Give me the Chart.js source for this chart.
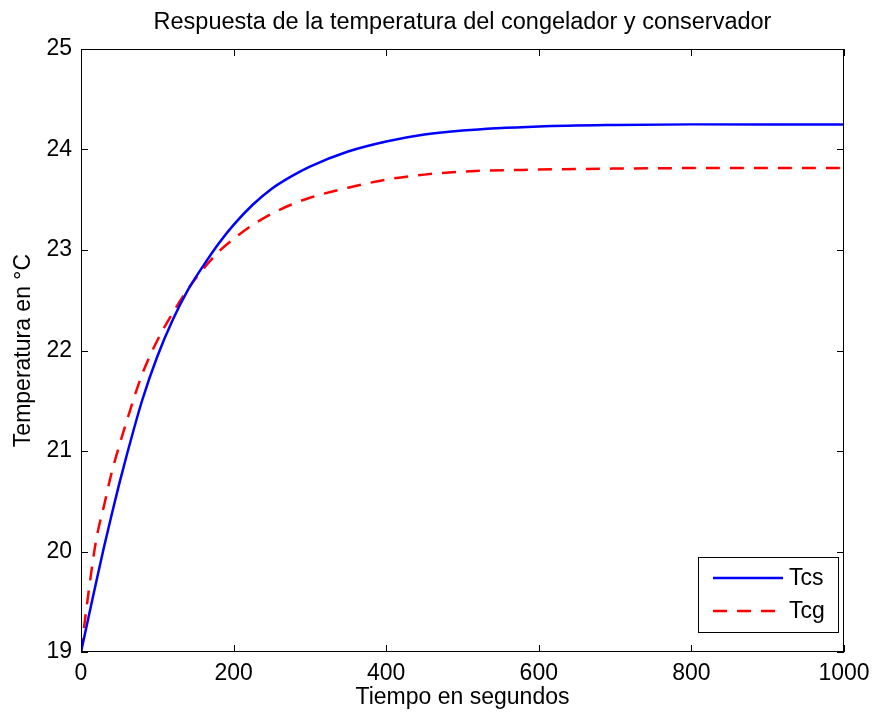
<!DOCTYPE html>
<html>
<head>
<meta charset="utf-8">
<script src="https://cdn.jsdelivr.net/npm/chart.js@4"></script>
<style>body{margin:0;background:#fff}</style>
</head>
<body>
<canvas id="chart" width="872" height="713"></canvas>
<script>
// tiempo en segundos
const tiempo = [0, 10, 20, 30, 40, 50, 60, 80, 100, 120, 140, 160, 180, 200, 225, 250, 275, 300, 350, 400, 450, 500, 600, 700, 800, 900, 1000];
// temperatura del conservador
const tcs = [19.0, 19.35, 19.7, 20.04, 20.36, 20.67, 20.96, 21.5, 21.94, 22.3, 22.6, 22.84, 23.06, 23.25, 23.45, 23.61, 23.73, 23.83, 23.98, 24.08, 24.15, 24.19, 24.23, 24.245, 24.25, 24.25, 24.25];
// temperatura del congelador
const tcg = [19.0, 19.6, 20.12, 20.45, 20.78, 21.05, 21.3, 21.76, 22.1, 22.37, 22.61, 22.81, 22.98, 23.11, 23.25, 23.36, 23.45, 23.52, 23.62, 23.7, 23.75, 23.78, 23.8, 23.81, 23.815, 23.815, 23.815];
const titulo = 'Respuesta de la temperatura del congelador y conservador';

const FONT = '"Liberation Sans", Arial, sans-serif';
Chart.defaults.font.family = FONT;
Chart.defaults.color = '#000';

// marco, marcas hacia adentro, titulo y leyenda estilo MATLAB
const boxPlugin = {
    id: 'boxPlugin',
    afterDatasetsDraw(chart) {
        const { ctx, chartArea: a, scales } = chart;
        const len = 7;
        ctx.save();
        ctx.strokeStyle = '#000';
        ctx.lineWidth = 1;
        ctx.strokeRect(a.left + 0.5, a.top + 0.5, a.right - a.left - 1, a.bottom - a.top - 1);
        ctx.beginPath();
        scales.x.ticks.forEach(t => {
            const px = Math.round(scales.x.getPixelForValue(t.value)) + 0.5;
            ctx.moveTo(px, a.bottom); ctx.lineTo(px, a.bottom - len);
            ctx.moveTo(px, a.top); ctx.lineTo(px, a.top + len);
        });
        scales.y.ticks.forEach(t => {
            const py = Math.round(scales.y.getPixelForValue(t.value)) + 0.5;
            ctx.moveTo(a.left, py); ctx.lineTo(a.left + len, py);
            ctx.moveTo(a.right, py); ctx.lineTo(a.right - len, py);
        });
        ctx.stroke();

        // titulo
        ctx.fillStyle = '#000';
        ctx.font = '23.5px ' + FONT;
        ctx.textAlign = 'center';
        ctx.textBaseline = 'middle';
        ctx.fillText(titulo, (a.left + a.right) / 2, 23);

        // leyenda
        const w = 140, h = 75;
        const lx = a.right - 6 - w, ly = a.bottom - 20 - h;
        ctx.fillStyle = '#fff';
        ctx.fillRect(lx, ly, w, h);
        ctx.strokeRect(lx + 0.5, ly + 0.5, w, h);
        ctx.font = '23px ' + FONT;
        ctx.textAlign = 'left';
        chart.data.datasets.forEach((ds, i) => {
            const yy = ly + 21 + i * 33;
            ctx.beginPath();
            ctx.strokeStyle = ds.borderColor;
            ctx.lineWidth = ds.borderWidth;
            ctx.setLineDash(ds.borderDash || []);
            ctx.moveTo(lx + 15, yy);
            ctx.lineTo(lx + 85, yy);
            ctx.stroke();
            ctx.setLineDash([]);
            ctx.fillStyle = '#000';
            ctx.fillText(ds.label, lx + 91, yy + 1);
        });
        ctx.restore();
    }
};

new Chart(document.getElementById('chart'), {
    type: 'line',
    data: {
        datasets: [
            {
                label: 'Tcs',
                data: tiempo.map((t, i) => ({ x: t, y: tcs[i] })),
                borderColor: '#0000ff',
                borderWidth: 2.5,
                pointRadius: 0,
                cubicInterpolationMode: 'monotone'
            },
            {
                label: 'Tcg',
                data: tiempo.map((t, i) => ({ x: t, y: tcg[i] })),
                borderColor: '#ff0000',
                borderWidth: 2.5,
                borderDash: [14, 10],
                pointRadius: 0,
                cubicInterpolationMode: 'monotone'
            }
        ]
    },
    options: {
        responsive: false,
        animation: false,
        devicePixelRatio: 1,
        layout: { padding: { left: 0, right: 28, top: 49, bottom: 0 } },
        plugins: {
            legend: { display: false },
            tooltip: { enabled: false },
            title: { display: false }
        },
        scales: {
            x: {
                type: 'linear',
                min: 0,
                max: 1000,
                ticks: {
                    stepSize: 200, font: { size: 23 }, padding: 8, maxRotation: 0,
                    callback: v => String(v)
                },
                grid: { display: false, drawTicks: false },
                border: { display: false },
                title: { display: true, text: 'Tiempo en segundos', font: { size: 23 }, padding: { top: 0, bottom: 2 } },
                afterFit(s) { s.height = 61; s.paddingLeft = 0; s.paddingRight = 0; }
            },
            y: {
                min: 19,
                max: 25,
                ticks: { stepSize: 1, font: { size: 23 }, padding: 9 },
                grid: { display: false, drawTicks: false },
                border: { display: false },
                title: { display: true, text: 'Temperatura en °C', font: { size: 23 }, padding: { top: 10, bottom: 0 } },
                afterFit(s) { s.width = 81; s.paddingTop = 0; s.paddingBottom = 0; }
            }
        }
    },
    plugins: [boxPlugin]
});
</script>
</body>
</html>
